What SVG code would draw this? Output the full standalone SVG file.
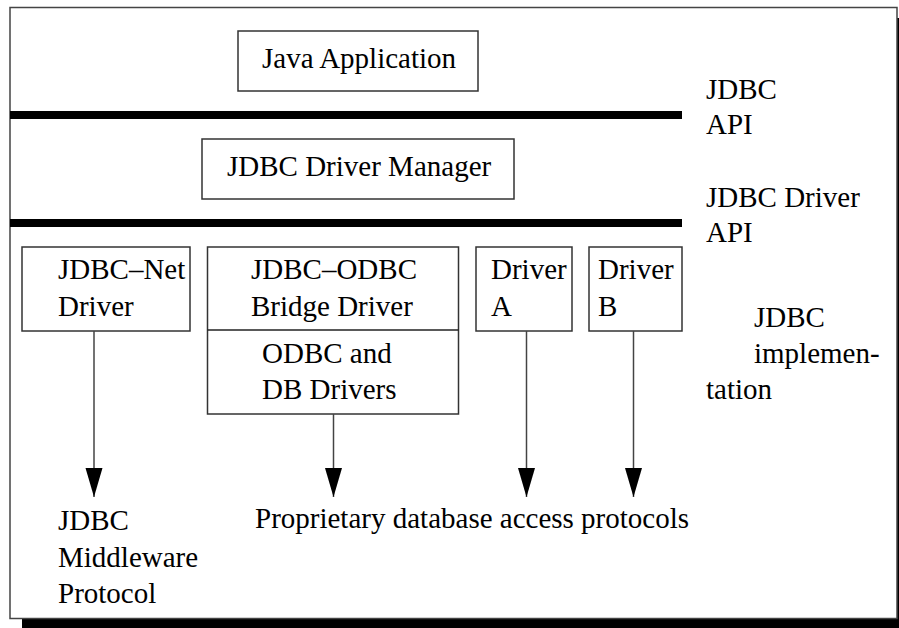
<svg xmlns="http://www.w3.org/2000/svg" width="899" height="628" viewBox="0 0 899 628">
<style>
text{font-size:29px;fill:#000}
.box{fill:#fff;stroke:#333;stroke-width:1.5}
.bar{stroke:#000;stroke-width:8}
.conn{stroke:#444;stroke-width:1.5;fill:none}
</style>
<defs>
<marker id="ah" markerUnits="userSpaceOnUse" markerWidth="30" markerHeight="18" refX="29" refY="9" orient="auto" viewBox="0 0 30 18">
<path d="M0,0.5 L0,17.5 L29,9 Z" fill="#000"/>
</marker>
</defs>
<rect x="0" y="0" width="899" height="628" fill="#fff"/>
<g id="frame">
<rect x="22" y="18" width="880" height="612" fill="#000"/>
<rect x="10" y="7.5" width="887" height="611" fill="#fff" stroke="#444" stroke-width="1.5"/>
</g>
<g id="bars">
<line class="bar" x1="10" y1="115" x2="682" y2="115"/>
<line class="bar" x1="10" y1="223" x2="682" y2="223"/>
</g>
<g font-family="Liberation Serif, Times New Roman, DejaVu Serif, serif">
<g id="java-app">
<rect class="box" x="238" y="31" width="240" height="60"/>
<text x="262" y="68">Java Application</text>
</g>
<g id="driver-manager">
<rect class="box" x="202" y="139" width="312" height="60"/>
<text x="227" y="176">JDBC Driver Manager</text>
</g>
<g id="jdbc-net">
<rect class="box" x="22" y="247" width="168" height="84"/>
<text x="58" y="279">JDBC–Net</text>
<text x="58" y="316">Driver</text>
</g>
<g id="jdbc-odbc">
<rect class="box" x="207.5" y="247" width="251" height="167"/>
<line x1="207.5" y1="330" x2="458.5" y2="330" stroke="#222" stroke-width="1.5"/>
<text x="251" y="279">JDBC–ODBC</text>
<text x="251" y="316">Bridge Driver</text>
<text x="262" y="363">ODBC and</text>
<text x="262" y="399">DB Drivers</text>
</g>
<g id="driver-a">
<rect class="box" x="476" y="247" width="96" height="84"/>
<text x="491" y="279">Driver</text>
<text x="491" y="316">A</text>
</g>
<g id="driver-b">
<rect class="box" x="589" y="247" width="93" height="84"/>
<text x="598" y="279">Driver</text>
<text x="598" y="316">B</text>
</g>
<g id="connectors">
<line class="conn" x1="94" y1="331" x2="94" y2="497" marker-end="url(#ah)"/>
<line class="conn" x1="333.5" y1="414" x2="333.5" y2="497" marker-end="url(#ah)"/>
<line class="conn" x1="526.5" y1="331" x2="526.5" y2="497" marker-end="url(#ah)"/>
<line class="conn" x1="633.5" y1="331" x2="633.5" y2="497" marker-end="url(#ah)"/>
</g>
<g id="labels">
<text x="706" y="99">JDBC</text>
<text x="706" y="134">API</text>
<text x="706" y="207">JDBC Driver</text>
<text x="706" y="242">API</text>
<text x="754" y="327">JDBC</text>
<text x="754" y="363">implemen-</text>
<text x="706" y="399">tation</text>
<text x="58" y="530">JDBC</text>
<text x="58" y="567">Middleware</text>
<text x="58" y="603">Protocol</text>
<text x="255" y="528">Proprietary database access protocols</text>
</g>
</g>
</svg>
